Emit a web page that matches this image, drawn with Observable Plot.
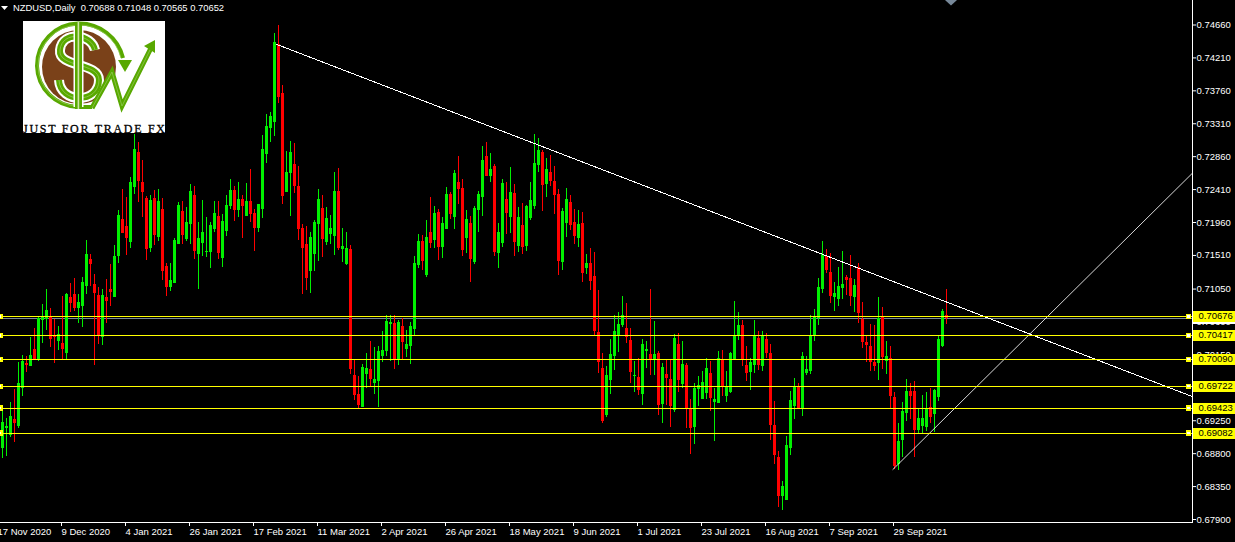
<!DOCTYPE html>
<html>
<head>
<meta charset="utf-8">
<script src="https://cdn.jsdelivr.net/npm/d3@7"></script>
<script src="https://cdn.jsdelivr.net/npm/@observablehq/plot@0.6"></script>
<style>
html,body{margin:0;padding:0;background:#000;overflow:hidden}
#wrap{position:relative;width:1235px;height:542px;background:#000}
#head{position:absolute;left:13px;top:2px;font:9.4px "Liberation Sans",sans-serif;color:#fff;white-space:pre;line-height:12px;z-index:3}
#deco{position:absolute;left:0;top:0;z-index:2}
svg{display:block}
</style>
</head>
<body>
<div id="wrap">
<div id="head">NZDUSD,Daily  0.70688 0.71048 0.70565 0.70652</div>
<svg id="deco" width="1235" height="542" viewBox="0 0 1235 542">
  <polygon points="1,6 8,6 4.5,10" fill="#fff"/>
  <polygon points="945,0 957,0 951,5.5" fill="#778899"/>
  <g>
    <rect x="23" y="21" width="142" height="112" fill="#fff"/>
    <clipPath id="lc"><rect x="23" y="21" width="142" height="112"/></clipPath>
    <g clip-path="url(#lc)">
      <circle cx="79" cy="67" r="37" fill="#7a4119"/>
      <polygon points="92,112 112,70 120,84 127,62 170,62 170,125 92,125" fill="#fff"/>
      <path d="M123 58 A45 45 0 0 0 78 23.5 A42 42 0 0 0 37 66 A42 42 0 0 0 78 107 L92 107" fill="none" stroke="#58a800" stroke-width="4"/>
      <path d="M121 58 A43 43 0 0 0 78 25 A41 41 0 0 0 38 66 A41 41 0 0 0 78 106" fill="none" stroke="#8fc850" stroke-width="0.8"/>
      <polygon points="118,60 132,60 125,72" fill="#58a800"/>
      <path d="M95 50 C92 34 62 30 60 50 C58 68 99 62 99 80 C99 104 60 104 59 80" fill="none" stroke="#fff" stroke-width="10"/>
      <path d="M95 50 C92 34 62 30 60 50 C58 68 99 62 99 80 C99 104 60 104 59 80" fill="none" stroke="#58a800" stroke-width="6"/>
      <path d="M95 50 C92 34 62 30 60 50 C58 68 99 62 99 80 C99 104 60 104 59 80" fill="none" stroke="#8fc850" stroke-width="0.8"/>
      <rect x="73.5" y="27" width="10" height="80" fill="#fff"/>
      <rect x="75" y="22" width="7" height="87" fill="#58a800"/>
      <rect x="77.6" y="22" width="1.6" height="87" fill="#cfe6a8"/>
      <path d="M92 108 L112 72 L122 106 L152 46" fill="none" stroke="#58a800" stroke-width="5"/>
      <path d="M92 108 L112 72 L122 106 L152 46" fill="none" stroke="#8fc850" stroke-width="0.8"/>
      <polygon points="155,40 155,53 144,46" fill="#58a800"/>
      <text x="23" y="133" font-family="Liberation Serif,serif" font-size="12" textLength="142" lengthAdjust="spacing" fill="#000" stroke="#000" stroke-width="0.3">JUST FOR TRADE FX</text>
    </g>
  </g>
</svg>
</div>
<script>
const opens = [0.68871,0.69144,0.69049,0.69267,0.69172,0.69691,0.70033,0.69992,0.70224,0.70074,0.70621,0.70634,0.70662,0.70416,0.70333,0.70306,0.70170,0.70935,0.70976,0.70785,0.70812,0.71085,0.71455,0.71112,0.70962,0.70388,0.70935,0.71044,0.70935,0.71496,
0.72001,0.71906,0.71687,0.72439,0.72917,0.72507,0.72288,0.71605,0.72288,0.71755,0.72138,0.71359,0.71071,0.71126,0.71659,0.72110,0.71728,0.71933,0.72329,0.71523,0.71673,0.71550,0.71550,0.71865,0.72042,0.71469,0.71837,0.72179,0.72398,0.72124,
0.72275,0.72042,0.72247,0.72083,0.71879,0.72138,0.72890,0.73245,0.73327,0.74394,0.73724,0.72370,0.72630,0.72753,0.72452,0.71879,0.71659,0.71290,0.71523,0.71933,
0.72152,0.71687,0.71796,0.71769,0.72384,0.71591,0.71386,0.71591,0.69869,0.69609,0.69431,0.69882,0.69951,0.69759,0.69786,0.70129,0.70197,0.70566,0.70580,0.70074,0.70539,0.70224,0.70265,0.70498,0.71373,0.71700,0.71236,0.71824,0.71714,0.72097,
0.71618,0.71865,0.72343,0.72029,0.72507,0.72425,0.71741,0.71947,0.71414,0.72124,0.72302,0.72862,0.72589,0.72726,0.71537,0.71673,0.72275,0.72029,0.72357,0.71632,0.71920,0.71632,0.72015,0.72179,0.72740,0.72917,0.72480,0.72644,0.72520,0.72343,
0.71414,0.71947,0.72234,0.71961,0.71741,0.71947,0.71331,0.71400,0.71222,0.70457,0.69965,0.69322,0.69800,0.70129,0.70416,0.70553,0.70512,0.70347,0.69855,0.69841,
0.69609,0.70197,0.70156,0.70088,0.70170,0.69472,0.69882,0.69814,0.69390,0.70292,0.69746,0.70006,0.69418,0.69158,0.69677,0.69541,0.69623,0.69896,0.69500,0.69486,0.70088,0.69582,0.69637,0.70088,0.70402,0.70553,0.70006,0.69910,0.70006,0.70374,
0.69992,0.70361,0.70170,0.69185,0.68748,0.68215,0.68160,0.68871,0.69445,0.69705,0.69418,0.69896,0.69923,0.70402,0.70648,0.71044,0.71496,0.71277,0.70935,0.70908,0.71058,0.71208,0.71195,0.70935,0.71345,0.70634,0.70320,0.70265,0.70047,0.70033,
0.70662,0.70060,0.70102,0.69568,0.68652,0.68980,0.69349,0.69650,0.69650,0.69117,0.69172,0.69158,0.69431,0.69336,0.69568,0.70265,0.70688];
const closes = [0.69226,0.69172,0.69308,0.69213,0.69759,0.70060,0.70006,0.70143,0.70088,0.70648,0.70662,0.70757,0.70361,0.70388,0.70429,0.70224,0.70976,0.70853,0.70785,0.70867,0.71140,0.71523,0.71386,0.70990,0.70416,0.70962,0.70880,0.71003,0.71496,0.72056,
0.71810,0.71741,0.72507,0.72958,0.72520,0.72370,0.71591,0.72261,0.71783,0.72247,0.71290,0.71071,0.71167,0.71714,0.72193,0.71783,0.71961,0.72384,0.71564,0.71741,0.71824,0.71564,0.71920,0.72083,0.71537,0.71974,0.72193,0.72398,0.72124,0.72275,
0.72179,0.72247,0.72069,0.71879,0.72206,0.72958,0.73273,0.73409,0.74421,0.73669,0.72316,0.72644,0.72917,0.72452,0.71865,0.71605,0.71195,0.71755,0.71961,0.72275,
0.71728,0.72015,0.71879,0.72384,0.71605,0.71632,0.71605,0.69951,0.69596,0.69459,0.69978,0.69965,0.69814,0.69814,0.70197,0.70211,0.70607,0.70594,0.70074,0.70594,0.70320,0.70292,0.70539,0.71400,0.71700,0.71427,0.71755,0.71673,0.72083,0.71618,
0.71947,0.72343,0.72069,0.72630,0.72411,0.71578,0.72001,0.71455,0.72152,0.72343,0.72808,0.72589,0.72685,0.71550,0.71824,0.72493,0.72083,0.72370,0.71687,0.72029,0.71618,0.72179,0.72261,0.72767,0.72945,0.72466,0.72685,0.72520,0.72329,0.71427,
0.72110,0.72275,0.71920,0.71769,0.71933,0.71263,0.71400,0.71154,0.70470,0.70047,0.69240,0.69869,0.70156,0.70470,0.70566,0.70689,0.70388,0.69910,0.69869,0.69664,
0.70292,0.70224,0.70088,0.70156,0.69459,0.69978,0.69828,0.69445,0.70374,0.69800,0.70019,0.69418,0.69144,0.69691,0.69732,0.69773,0.69965,0.69555,0.69541,0.70102,0.69718,0.69705,0.70170,0.70402,0.70553,0.70088,0.69896,0.70047,0.70402,0.70006,
0.70402,0.70170,0.69185,0.68775,0.68215,0.68351,0.68912,0.69527,0.69705,0.69418,0.70129,0.69951,0.70402,0.70662,0.71071,0.71523,0.71304,0.70949,0.70990,0.71085,0.71112,0.71167,0.70949,0.71099,0.70716,0.70320,0.70279,0.70047,0.69992,0.70648,
0.70115,0.70129,0.69582,0.68625,0.68967,0.69377,0.69650,0.69582,0.69117,0.69281,0.69281,0.69404,0.69295,0.69664,0.70361,0.70743,0.70652];
const highs = [0.69431,0.69281,0.69500,0.69677,0.70047,0.70143,0.70129,0.70388,0.70512,0.70675,0.70839,0.71044,0.70785,0.70634,0.70539,0.70949,0.70990,0.71126,0.71195,0.70976,0.71208,0.71714,0.71523,0.71249,0.71071,0.71044,0.71181,0.71386,0.71646,0.72124,
0.72411,0.72302,0.72575,0.73163,0.73054,0.72808,0.72316,0.72329,0.72398,0.72411,0.72288,0.71400,0.71400,0.71741,0.72234,0.72247,0.72165,0.72480,0.72452,0.71961,0.72261,0.72029,0.71961,0.72247,0.72247,0.72069,0.72329,0.72548,0.72452,0.72507,
0.72329,0.72493,0.72685,0.72138,0.72206,0.73150,0.73437,0.73464,0.74544,0.74653,0.73833,0.72931,0.73068,0.73040,0.72726,0.71933,0.71906,0.71824,0.71988,0.72411,
0.72329,0.72165,0.72056,0.72644,0.72699,0.71879,0.71824,0.71646,0.70074,0.69855,0.70019,0.70170,0.70333,0.70252,0.70265,0.70470,0.70689,0.70689,0.70689,0.70621,0.70648,0.70484,0.70594,0.71496,0.71796,0.71783,0.71988,0.72302,0.72179,0.72138,
0.72029,0.72439,0.72370,0.72671,0.72862,0.72548,0.72124,0.72042,0.72179,0.72384,0.73000,0.73054,0.72903,0.72753,0.71947,0.72548,0.72507,0.72712,0.72480,0.72165,0.72220,0.72193,0.72507,0.73163,0.73109,0.72945,0.72835,0.72876,0.72726,0.72411,
0.72152,0.72425,0.72329,0.72138,0.72124,0.72097,0.71523,0.71605,0.71550,0.71031,0.70170,0.69992,0.70361,0.70689,0.70730,0.70949,0.70853,0.70512,0.70060,0.70102,
0.70361,0.70333,0.71044,0.70607,0.70197,0.70033,0.70074,0.70074,0.70429,0.70443,0.70333,0.70033,0.69541,0.69759,0.69855,0.69923,0.70102,0.70060,0.69691,0.70197,0.70211,0.69923,0.70184,0.70880,0.70730,0.70621,0.70265,0.70102,0.70621,0.70470,
0.70470,0.70443,0.70292,0.69513,0.68830,0.68420,0.69035,0.69650,0.69828,0.69759,0.70184,0.70129,0.70689,0.70771,0.71195,0.71700,0.71591,0.71537,0.71140,0.71345,0.71564,0.71236,0.71510,0.71181,0.71400,0.70867,0.70402,0.70566,0.70553,0.70935,
0.70799,0.70333,0.70265,0.69637,0.69213,0.69500,0.69814,0.69759,0.69786,0.69418,0.69596,0.69637,0.69691,0.69677,0.70402,0.70771,0.71048];
const lows = [0.68734,0.68762,0.69021,0.68953,0.69144,0.69582,0.69910,0.69992,0.70074,0.70060,0.70306,0.70484,0.70252,0.70033,0.70211,0.70074,0.70074,0.70730,0.70743,0.70580,0.70525,0.70976,0.71085,0.70006,0.70292,0.70279,0.70580,0.70812,0.70935,0.71400,
0.71810,0.71510,0.71605,0.72343,0.72234,0.72029,0.71441,0.71550,0.71646,0.71700,0.71167,0.70949,0.71017,0.71126,0.71659,0.71659,0.71700,0.71659,0.71455,0.71044,0.71496,0.71482,0.71331,0.71824,0.71455,0.71345,0.71769,0.72138,0.71974,0.72029,
0.71741,0.72042,0.71961,0.71564,0.71824,0.72015,0.72767,0.73054,0.73136,0.73587,0.72206,0.72370,0.72042,0.72357,0.71714,0.70976,0.71031,0.70990,0.71290,0.71427,
0.71482,0.71646,0.71659,0.71510,0.71578,0.71414,0.71373,0.69882,0.69527,0.69418,0.69431,0.69691,0.69718,0.69609,0.69431,0.70047,0.70129,0.70060,0.69951,0.70006,0.70074,0.70115,0.70019,0.70416,0.71331,0.71304,0.71208,0.71605,0.71605,0.71441,
0.71469,0.71865,0.72001,0.71865,0.72206,0.71496,0.71537,0.71140,0.71386,0.71824,0.72042,0.72589,0.72507,0.71496,0.71331,0.71618,0.71796,0.71810,0.71496,0.71550,0.71523,0.71564,0.71988,0.72138,0.72644,0.72110,0.72302,0.72452,0.72069,0.71236,
0.71304,0.71755,0.71851,0.71659,0.71618,0.71140,0.71249,0.71031,0.70416,0.69896,0.69213,0.69295,0.69609,0.69937,0.70184,0.70525,0.70306,0.69759,0.69636,0.69596,
0.69459,0.69965,0.69869,0.69869,0.69322,0.69213,0.69459,0.69158,0.69363,0.69636,0.69691,0.69144,0.68789,0.68926,0.69445,0.69541,0.69541,0.69377,0.68967,0.69486,0.69582,0.69500,0.69623,0.70088,0.70347,0.69992,0.69786,0.69664,0.69896,0.69937,
0.69923,0.70102,0.68980,0.68652,0.68064,0.68023,0.68160,0.68775,0.69267,0.69418,0.69308,0.69869,0.69882,0.70333,0.70553,0.70990,0.71263,0.70853,0.70743,0.70812,0.70908,0.70962,0.70812,0.70730,0.70580,0.70238,0.70047,0.69923,0.69923,0.69800,
0.69951,0.69882,0.69418,0.68584,0.68570,0.68748,0.69240,0.69267,0.68748,0.69076,0.69076,0.69103,0.69213,0.69090,0.69513,0.70252,0.70565];

const levels = [0.70676,0.70417,0.70090,0.69722,0.69423,0.69082];
const bid = 0.70652;
const priceTicks = [0.74660,0.74210,0.73760,0.73310,0.72860,0.72410,0.71960,0.71510,0.71050,0.70600,0.70150,0.69700,0.69250,0.68800,0.68350,0.67900];
const dateTicks = [-1,15,31,47,63,79,95,111,127,143,159,175,191,207,223];
const dateLabels = ["17 Nov 2020","9 Dec 2020","4 Jan 2021","26 Jan 2021","17 Feb 2021","11 Mar 2021","2 Apr 2021","26 Apr 2021","18 May 2021","9 Jun 2021","1 Jul 2021","23 Jul 2021","16 Aug 2021","7 Sep 2021","29 Sep 2021"];
const resistance = [{i:68.6,p:0.74394},{i:297.4,p:0.69582}];
const support = [{i:222.6,p:0.68584},{i:297.4,p:0.72630}];

const candles = opens.map((o,i)=>({i,o,c:closes[i],h:highs[i],l:lows[i]}));
const col = d=>d.c>=d.o?"#00f000":"#ff0000";
const crisp = {shapeRendering:"crispEdges"};
const labelAt = new Map(dateTicks.map((t,k)=>[t,dateLabels[k]]));

const chart = Plot.plot({
  width:1235,height:542,
  marginTop:0,marginLeft:0,marginRight:43,marginBottom:20,
  style:{background:"#000",color:"#fff",fontFamily:"Liberation Sans",fontSize:"9.5px"},
  x:{type:"linear",domain:[0,236],range:[2,946]},
  y:{type:"linear",domain:[0.7466,0.679],range:[24.5,519]},
  marks:[
    Plot.ruleY([bid],{stroke:"#778899",...crisp}),
    Plot.ruleX(candles,{x:"i",y1:"h",y2:"l",stroke:col,strokeWidth:1,...crisp}),
    Plot.ruleX(candles,{x:"i",y1:"o",y2:"c",stroke:col,strokeWidth:3,...crisp}),
    Plot.line(resistance,{x:"i",y:"p",stroke:"#fff",strokeWidth:1,...crisp}),
    Plot.line(support,{x:"i",y:"p",stroke:"#fff",strokeWidth:0.85,...crisp}),
    Plot.ruleY(levels,{stroke:"#ffff00",strokeWidth:1,...crisp}),
    Plot.dot(levels,{x:()=>-0.6,y:d=>d,symbol:"square",r:2.2,fill:"#fff",stroke:"#ffff00",...crisp}),
    Plot.dot(levels,{x:()=>296.5,y:d=>d,symbol:"square",r:2.2,fill:"#fff",stroke:"#ffff00",...crisp}),
    Plot.frame({anchor:"right",stroke:"#fff"}),
    Plot.frame({anchor:"bottom",stroke:"#fff"}),
    Plot.axisY(priceTicks,{anchor:"right",label:null,tickSize:3,tickPadding:1,stroke:"#fff",fill:"#fff",tickFormat:d=>d.toFixed(5)}),
    Plot.axisX(dateTicks,{anchor:"bottom",label:null,tickSize:4,tickPadding:2,stroke:"#fff",fill:"#fff",textAnchor:"start",dx:-1,tickFormat:d=>labelAt.get(d)}),
    Plot.ruleY([bid],{x1:()=>297.75,x2:()=>309,stroke:"#fff",strokeWidth:11,...crisp}),
    Plot.text([bid],{x:()=>299,y:d=>d,text:d=>d.toFixed(5),textAnchor:"start",fill:"#000"}),
    Plot.ruleY(levels,{x1:()=>297.75,x2:()=>309,stroke:"#ffff00",strokeWidth:11,...crisp}),
    Plot.text(levels,{x:()=>299,y:d=>d,text:d=>d.toFixed(5),textAnchor:"start",fill:"#000"})
  ]
});
document.getElementById("wrap").prepend(chart);
</script>
</body>
</html>
